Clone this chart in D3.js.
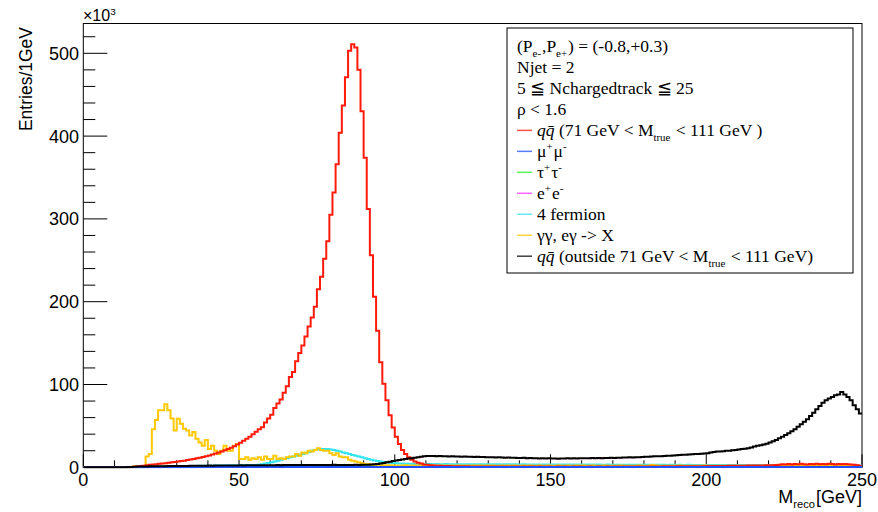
<!DOCTYPE html>
<html>
<head>
<meta charset="utf-8">
<script src="https://cdn.jsdelivr.net/npm/d3@7"></script>
<style>
  html, body { margin: 0; padding: 0; background: #fff; }
  svg { display: block; }
</style>
</head>
<body>
<svg id="chart" width="878" height="512"></svg>
<script>
// ---------------- DATA (entries per 1 GeV bin, in units of 10^3; bin i = [i, i+1) GeV) ----------------
const qqIn = [
0,0,0,0,0,0,0,0,0,0,
0,0,0,0,0,0.3,0.6,1,1.5,2,
2.5,3,3.4,3.8,4.2,4.6,5,5.5,6,6.5,
7,7.5,8,8.7,9.4,10,10.8,11.6,12.5,13.4,
14.4,15.5,16.6,17.8,19,20.5,22,23.5,25.5,27.5,
29.5,32,34.5,37,40,43,46,48.5,54,59,
63.5,71.5,77,82,90,98,109,115,128,138,
147,158,170,181,194,215,230,252,273,305,
332,366,404,437,471,503,511,507,480,430,
374,312,256,206,165,127,101,81,63,48,
37,28,21,16,12,9,7,5.5,4.5,3.5,
3,2.5,2.2,2,1.8,1.6,1.5,1.5,1.4,1.4,
1.3,1.3,1.2,1.2,1.1,1.1,1.1,1,1,1,
1,0.9,1,0.9,0.9,1,0.8,0.9,0.9,1,
0.8,0.9,0.8,0.9,0.9,0.8,0.9,1,0.8,0.9,
0.8,0.8,0.9,0.8,0.9,0.8,0.8,0.9,0.8,0.9,
0.8,0.8,0.9,0.8,0.8,0.9,0.8,0.8,0.9,0.8,
0.9,0.9,0.8,0.9,0.9,1,0.9,0.9,1,0.9,
1,1,1.1,1,1.1,1,1.2,1.1,1.2,1.1,
1.2,1.2,1.3,1.2,1.3,1.3,1.4,1.3,1.4,1.4,
1.5,1.5,1.6,1.5,1.6,1.7,1.7,1.8,1.8,1.9,
1.9,2,2,2.1,2.1,2.2,2.2,2.3,2.3,2.4,
2.4,2.5,2.8,3.2,3.8,3.5,4,3.4,3.9,3.6,
4.2,3.7,3.5,4.1,3.8,4.3,3.6,4,3.7,4.2,
3.9,3.5,4.1,3.7,4,3.6,3.4,3.1,2.6,1.8
];
const mumu = [
0,0,0,0,0,0,0,0,0,0,
0,0,0,0,0,0,0,0,0,0,
0,0,0,0,0,0,0,0,0,0,
0,0,0,0,0,0,0,0,0,0,
0.2,0.3,0.3,0.4,0.3,0.4,0.4,0.5,0.4,0.5,
0.4,0.5,0.5,0.4,0.5,0.5,0.4,0.5,0.4,0.5,
0.5,0.4,0.5,0.4,0.5,0.4,0.5,0.5,0.4,0.5,
0.4,0.5,0.4,0.4,0.5,0.4,0.5,0.4,0.4,0.5,
0.4,0.4,0.5,0.4,0.4,0.5,0.4,0.4,0.4,0.5,
0.4,0.4,0.4,0.5,0.4,0.4,0.4,0.4,0.5,0.4,
0.4,0.4,0.4,0.4,0.5,0.4,0.4,0.4,0.4,0.4,
0.4,0.5,0.4,0.4,0.4,0.4,0.4,0.5,0.4,0.4,
0.4,0.4,0.4,0.4,0.4,0.5,0.4,0.4,0.4,0.4,
0.4,0.4,0.5,0.4,0.4,0.4,0.4,0.4,0.4,0.5,
0.4,0.4,0.4,0.4,0.4,0.4,0.5,0.4,0.4,0.4,
0.4,0.4,0.4,0.5,0.4,0.4,0.4,0.4,0.4,0.4,
0.5,0.4,0.4,0.4,0.4,0.4,0.4,0.5,0.4,0.4,
0.4,0.4,0.4,0.4,0.5,0.4,0.4,0.4,0.4,0.4,
0.4,0.5,0.4,0.4,0.4,0.4,0.4,0.4,0.5,0.4,
0.4,0.4,0.4,0.4,0.4,0.5,0.4,0.4,0.4,0.4,
0.4,0.4,0.5,0.4,0.4,0.4,0.4,0.4,0.4,0.5,
0.4,0.4,0.4,0.4,0.4,0.4,0.5,0.4,0.4,0.4,
0.4,0.5,0.4,0.4,0.5,0.4,0.4,0.5,0.4,0.4,
0.5,0.4,0.5,0.4,0.5,0.4,0.5,0.4,0.5,0.4,
0.5,0.4,0.5,0.4,0.4,0.5,0.4,0.4,0.3,0.3
];
const tautau = [
0,0,0,0,0,0,0,0,0,0,
0,0,0,0,0,0,0,0,0.4,0.6,
0.8,0.9,1,1,1.1,1,1.2,1.1,1,1.2,
1.1,1.2,1,1.1,1.2,1.1,1,1.2,1.1,1.1,
1.2,1.1,1.2,1,1.1,1.2,1.1,1.2,1.1,1,
1.2,1.1,1.2,1.1,1.3,1.1,1.2,1.1,1.2,1.3,
1.2,1.1,1.3,1.2,1.2,1.1,1.3,1.2,1.1,1.2,
1.3,1.2,1.2,1.1,1.3,1.2,1.2,1.3,1.1,1.2,
1.2,1.3,1.1,1.2,1.2,1.1,1.3,1.2,1.1,1.2,
1.1,1.2,1.2,1.1,1.3,1.1,1.2,1.1,1.2,1.1,
1.2,1.1,1,1.2,1.1,1.1,1.2,1,1.1,1.2,
1.1,1,1.1,1.2,1.1,1,1.1,1.1,1.2,1,
1.1,1.1,1,1.2,1.1,1,1.1,1.1,1,1.1,
1.2,1,1.1,1,1.1,1.2,1,1.1,1,1.1,
1,1.1,1.2,1,1.1,1,1.1,1,1.2,1,
1.1,1,1.1,1.1,1,1.2,1,1.1,1,1.1,
1,1.2,1,1.1,1,1.1,1,1.1,1.2,1,
1.1,1,1.1,1,1.2,1.1,1,1.1,1,1.1,
1.2,1.1,1.3,1.2,1.4,1.3,1.2,1.4,1.3,1.2,
1.3,1.4,1.2,1.3,1.4,1.3,1.5,1.3,1.4,1.3,
1.2,1.1,1.2,1,1.1,1.2,1,1.1,1,0.9,
1,1.1,0.9,1,1.1,0.9,1,1.1,0.9,1,
1.1,1.2,1.3,1.5,1.4,1.6,1.3,1.5,1.4,1.6,
1.5,1.4,1.6,1.5,1.7,1.5,1.4,1.6,1.3,1.5,
1.4,1.3,1.5,1.3,1.2,1.4,1.2,1.1,1,0.9
];
const ee = [
0,0,0,0,0,0,0,0,0,0,
0,0,0,0,0,0,0,0,0,0,
0.1,0.2,0.2,0.3,0.2,0.3,0.3,0.2,0.3,0.3,
0.3,0.2,0.3,0.3,0.3,0.2,0.3,0.3,0.3,0.3,
0.3,0.3,0.2,0.3,0.3,0.3,0.3,0.3,0.2,0.3,
0.3,0.3,0.3,0.3,0.3,0.2,0.3,0.3,0.3,0.3,
0.3,0.3,0.3,0.2,0.3,0.3,0.3,0.3,0.3,0.3,
0.3,0.2,0.3,0.3,0.3,0.3,0.3,0.3,0.2,0.3,
0.3,0.3,0.3,0.3,0.2,0.3,0.3,0.3,0.3,0.3,
0.3,0.3,0.2,0.3,0.3,0.3,0.3,0.3,0.3,0.2,
0.3,0.3,0.3,0.3,0.3,0.3,0.2,0.3,0.3,0.3,
0.3,0.3,0.3,0.2,0.3,0.3,0.3,0.3,0.3,0.3,
0.2,0.3,0.3,0.3,0.3,0.3,0.3,0.2,0.3,0.3,
0.3,0.3,0.3,0.3,0.3,0.2,0.3,0.3,0.3,0.3,
0.3,0.2,0.3,0.3,0.3,0.3,0.3,0.3,0.2,0.3,
0.3,0.3,0.3,0.3,0.2,0.3,0.3,0.3,0.3,0.3,
0.3,0.3,0.2,0.3,0.3,0.3,0.3,0.3,0.3,0.2,
0.3,0.3,0.3,0.3,0.3,0.3,0.2,0.3,0.3,0.3,
0.3,0.3,0.3,0.2,0.3,0.3,0.3,0.3,0.3,0.3,
0.2,0.3,0.3,0.3,0.3,0.3,0.3,0.2,0.3,0.3,
0.3,0.3,0.3,0.3,0.3,0.2,0.3,0.3,0.3,0.3,
0.3,0.2,0.3,0.3,0.3,0.3,0.3,0.3,0.2,0.3,
0.3,0.3,0.3,0.3,0.2,0.3,0.3,0.3,0.3,0.3,
0.3,0.3,0.2,0.3,0.3,0.3,0.3,0.3,0.3,0.2,
0.3,0.3,0.3,0.3,0.3,0.3,0.2,0.3,0.2,0.2
];
const fourFermion = [
0,0,0,0,0,0,0,0,0,0,
0,0,0,0,0,0,0,0,0,0,
0.5,0.5,0.6,0.7,0.8,0.9,1,1,1.1,1.2,
1.3,1.3,1.4,1.5,1.5,1.6,1.7,1.8,1.8,1.9,
2,2,2.1,2.2,2.2,2.3,2.4,2.5,2.5,2.6,
2.7,2.7,2.8,2.9,2.9,2.9,3,3.7,4.5,5.2,
6,7,8,9,10,11,12,13,14,15,
16,17,18.5,20,21,21.5,22,22,22,21.5,
21,20,19,18,17,16,15,14,13,12,
11,10,9,8.3,7.6,7,6.5,6,5.6,5.2,
4.9,4.6,4.5,4.4,4.3,4.2,4.1,4,4,3.9,
3.9,3.9,3.8,3.9,3.8,3.8,3.9,3.7,3.8,3.8,
3.7,3.8,3.7,3.7,3.8,3.6,3.7,3.7,3.6,3.7,
3.6,3.6,3.7,3.6,3.5,3.6,3.6,3.5,3.6,3.5,
3.5,3.6,3.5,3.4,3.5,3.5,3.4,3.5,3.4,3.4,
3.5,3.4,3.3,3.4,3.4,3.3,3.4,3.3,3.3,3.4,
3.3,3.2,3.3,3.3,3.2,3.3,3.2,3.2,3.3,3.1,
3.2,3.2,3.1,3.2,3.1,3.1,3.2,3.1,3,3.1,
3.1,3,3.1,3,3,3.1,3,2.9,3,3,
2.9,3,2.9,2.9,3,2.9,2.8,2.9,2.9,2.8,
2.9,2.8,2.8,2.9,2.8,2.7,2.8,2.8,2.7,2.8,
2.7,2.7,2.8,2.7,2.6,2.7,2.7,2.6,2.7,2.6,
2.6,2.7,2.6,2.5,2.6,2.6,2.5,2.6,2.5,2.5,
2.6,2.5,2.4,2.5,2.5,2.4,2.5,2.4,2.4,2.5,
2.4,2.3,2.4,2.4,2.3,2.4,2.3,2.3,2.2,2.2
];
const gammaGamma = [
0,0,0,0,0,0,0,0,0,0,
0,0,0,0,0,0.5,1,1,1,1.5,
13,16,46,57,69,69,76,69,59,44.5,
58.6,52.5,46.5,44.5,38.5,42.5,34.5,30,26,33,
22,26,20,16,20,26,20,20,26,28,
10,10,12,9,11,10,12,9,13,10,
10,14,10,11,10,12,13,13,16,14,
18,17,20,19,21,23,21,20,20,17,
15,17,13,12,12,9,8,7,6,5,
4,4,3,3,2.5,2.5,2.4,2.2,2.5,2.1,
2.3,2,2.2,2.4,2,2.2,2.1,2.3,1.9,2.2,
2,2.4,2.1,1.9,2.2,2,2.3,2,2.1,1.9,
2.2,2,2.3,2.1,1.9,2.1,2,2.2,1.9,2.1,
2,2.3,1.9,2,2.2,2,2.1,1.9,2.2,2,
1.8,2.1,2,2.2,1.9,2,2.1,1.9,2,2.2,
1.9,2,2.1,1.8,2,2.1,1.9,2,2.2,1.9,
2.1,2,1.8,2.1,2,1.9,2,2.1,1.9,2,
1.8,2,2.1,1.9,2,1.8,2,1.9,2.1,1.8,
2,1.9,2.8,2.5,1.9,2,1.9,2,1.8,2,
1.9,2.1,1.8,2,1.9,2,1.8,2,1.9,2.1,
1.8,2,1.9,1.8,2,1.9,2,1.8,1.9,2,
1.8,1.9,2,1.8,1.9,2,1.8,1.9,2,1.8,
1.9,1.8,2,1.9,1.8,1.9,1.8,1.9,2,1.8,
1.9,1.8,1.9,1.8,1.9,1.8,1.9,1.8,1.9,2,
1.8,1.9,1.8,1.9,1.8,1.9,1.8,1.9,1.8,1.7
];
const qqOut = [
0,0,0,0,0,0,0,0,0,0,
0,0,0,0,0.3,0.5,0.8,0.9,1,1,
1.1,1.2,1.2,1.3,1.3,1.4,1.4,1.5,1.5,1.5,
1.6,1.6,1.7,1.7,1.8,1.8,1.9,1.9,2,2,
2.1,2,2.1,2.2,2.1,2.2,2.3,2.2,2.3,2.3,
2.4,2.3,2.4,2.4,2.5,2.4,2.5,2.5,2.6,2.5,
2.6,2.6,2.7,2.6,2.7,2.7,2.8,2.7,2.8,2.8,
2.7,2.8,2.9,2.8,2.9,2.8,2.9,2.9,2.8,2.9,
3,2.9,2.8,2.9,2.8,2.9,2.9,3,2.9,3,
3,3,3.3,3.6,4,4.5,5.2,6,6.8,7.5,
8.2,8.8,9.4,10,10.5,11,11.6,12.2,12.8,13.2,
13.5,13.6,13.5,13.3,13.6,13.2,13.4,13,13.2,12.9,
13.1,12.8,12.9,12.6,12.8,12.5,12.6,12.3,12.4,12.1,
12.2,12,11.8,12,11.7,11.5,11.7,11.4,11.6,11.3,
11.2,11.4,11,11.2,10.9,11,10.7,10.9,10.6,10.8,
10.5,10.7,10.4,10.6,10.5,10.8,10.6,10.9,10.7,11,
10.8,11,10.8,11.1,10.9,11.2,11,11.3,11.1,11.4,
11.3,11.6,11.5,11.8,11.7,12,11.9,12.2,12.1,12.4,
12.6,12.8,13,13.2,13.4,13.3,13.6,13.8,14,14.3,
14.6,14.9,15.1,15.3,15.5,15.8,16,16.2,16.5,16.8,
17,18,18.5,19,19,19.5,20,20,20.5,21,
21.5,22,22.5,23,24,25,26,26.5,27.5,28.5,
30,31.5,33,35,37,39,41,43.5,46,49,
52,55,58,62,66,70,74,78,81,83,
85,87,88,91,88,85,81,75,70,65
];

const xTicks = [0, 50, 100, 150, 200, 250];
const yTicks = [0, 100, 200, 300, 400, 500];

// legend header lines and entries
const headerLines = [
  [{t:"(P"},{t:"e-",sub:1},{t:",P"},{t:"e+",sub:1},{t:") = (-0.8,+0.3)"}],
  [{t:"Njet = 2"}],
  [{t:"5 \u2266 Nchargedtrack \u2266 25"}],
  [{t:"\u03c1 < 1.6"}]
];
const seriesNames = [
  [{t:"q",it:1},{t:"q\u0304",it:1},{t:" (71 GeV < M"},{t:"true",sub:1},{t:" < 111 GeV )"}],
  [{t:"\u03bc"},{t:"+",sup:1},{t:"\u03bc"},{t:"-",sup:1}],
  [{t:"\u03c4"},{t:"+",sup:1},{t:"\u03c4"},{t:"-",sup:1}],
  [{t:"e"},{t:"+",sup:1},{t:"e"},{t:"-",sup:1}],
  [{t:"4 fermion"}],
  [{t:"\u03b3\u03b3, e\u03b3 -> X"}],
  [{t:"q",it:1},{t:"q\u0304",it:1},{t:" (outside 71 GeV < M"},{t:"true",sub:1},{t:" < 111 GeV)"}]
];
const seriesColors = ["#ff1a0a", "#2050ff", "#22ee22", "#ff33ff", "#33e5f0", "#ffc800", "#000000"];
const seriesData = [qqIn, mumu, tautau, ee, fourFermion, gammaGamma, qqOut];
// drawing order (last on top)
const drawOrder = [3, 2, 4, 5, 0, 1, 6];

// ---------------- LAYOUT ----------------
const svg = d3.select("#chart");
const L = 83.3, R = 862, T = 23.5, B = 467.3;
const x = d3.scaleLinear().domain([0, 250]).range([L, R]);
const y = d3.scaleLinear().domain([0, 536]).range([B, T]);
const sans = "'Liberation Sans', Arial, Helvetica, sans-serif";
const serif = "'Liberation Serif', 'Times New Roman', serif";

svg.append("defs").append("clipPath").attr("id", "clip")
  .append("rect").attr("x", L).attr("y", T).attr("width", R - L).attr("height", B - T + 1);

// frame
svg.append("rect").attr("x", L).attr("y", T).attr("width", R - L).attr("height", B - T)
  .attr("fill", "none").attr("stroke", "#000").attr("stroke-width", 1);

// y axis ticks
const yMinor = d3.range(0, 537, 20);
svg.append("g").selectAll("line").data(yMinor).join("line")
  .attr("x1", L).attr("x2", d => L + (d % 100 === 0 ? 24 : 12))
  .attr("y1", d => y(d)).attr("y2", d => y(d))
  .attr("stroke", "#000").attr("stroke-width", 1);
svg.append("g").selectAll("text").data(yTicks).join("text")
  .attr("x", 79).attr("y", d => y(d) + 6.5)
  .attr("text-anchor", "end").attr("font-family", sans).attr("font-size", 18)
  .text(d => d);

// x axis ticks
const xMinor = d3.range(0, 251, 10);
svg.append("g").selectAll("line").data(xMinor).join("line")
  .attr("x1", d => x(d)).attr("x2", d => x(d))
  .attr("y1", B).attr("y2", d => B - (d % 50 === 0 ? 13 : 7))
  .attr("stroke", "#000").attr("stroke-width", 1);
svg.append("g").selectAll("text").data(xTicks).join("text")
  .attr("x", d => x(d)).attr("y", 486)
  .attr("text-anchor", "middle").attr("font-family", sans).attr("font-size", 18)
  .text(d => d);

// rich text helper
function rich(parent, px, py, segs, size, family, anchor) {
  const t = parent.append("text").attr("x", px).attr("y", py)
    .attr("font-size", size).attr("font-family", family)
    .attr("text-anchor", anchor || "start").attr("fill", "#000");
  let cur = 0, prevSmall = false;
  segs.forEach(s => {
    const small = !!(s.sub || s.sup);
    const off = s.sub ? size * 0.28 : (s.sup ? -size * 0.38 : 0);
    const ts = t.append("tspan").attr("dy", off - cur).text(s.t);
    if (prevSmall && !small) ts.attr("dx", 1);
    if (small) ts.attr("font-size", size * 0.62);
    if (s.it) ts.attr("font-style", "italic");
    cur = off; prevSmall = small;
  });
  return t;
}

// exponent label
rich(svg, 83, 21, [{t:"\u00d710"},{t:"3",sup:1}], 16, sans, "start");

// axis titles
svg.append("text")
  .attr("transform", "translate(32,27) rotate(-90)")
  .attr("text-anchor", "end").attr("font-family", sans).attr("font-size", 17.5)
  .text("Entries/1GeV");
rich(svg, 862, 503, [{t:"M"},{t:"reco",sub:1},{t:"[GeV]"}], 18, sans, "end");

// histograms
const line = d3.line().curve(d3.curveStepAfter);
const hg = svg.append("g").attr("clip-path", "url(#clip)");
drawOrder.forEach(si => {
  const vals = seriesData[si];
  const pts = vals.map((v, i) => [x(i), y(v)]);
  pts.push([x(vals.length), y(vals[vals.length - 1])]);
  hg.append("path").attr("d", line(pts))
    .attr("fill", "none").attr("stroke", seriesColors[si])
    .attr("stroke-width", 2).attr("stroke-linejoin", "miter");
});

// legend
const lg = svg.append("g");
lg.append("rect").attr("x", 507).attr("y", 28).attr("width", 346).attr("height", 245)
  .attr("fill", "#fff").attr("stroke", "#000").attr("stroke-width", 1);
const rowY = i => 52 + 20.97 * i;
headerLines.forEach((segs, i) => rich(lg, 517, rowY(i), segs, 17.5, serif));
seriesNames.forEach((segs, j) => {
  const i = j + headerLines.length;
  lg.append("line").attr("x1", 517).attr("x2", 532)
    .attr("y1", rowY(i) - 5.5).attr("y2", rowY(i) - 5.5)
    .attr("stroke", seriesColors[j]).attr("stroke-width", 1.5).attr("opacity", 0.75);
  rich(lg, 537, rowY(i), segs, 17.5, serif);
});
</script>
</body>
</html>
